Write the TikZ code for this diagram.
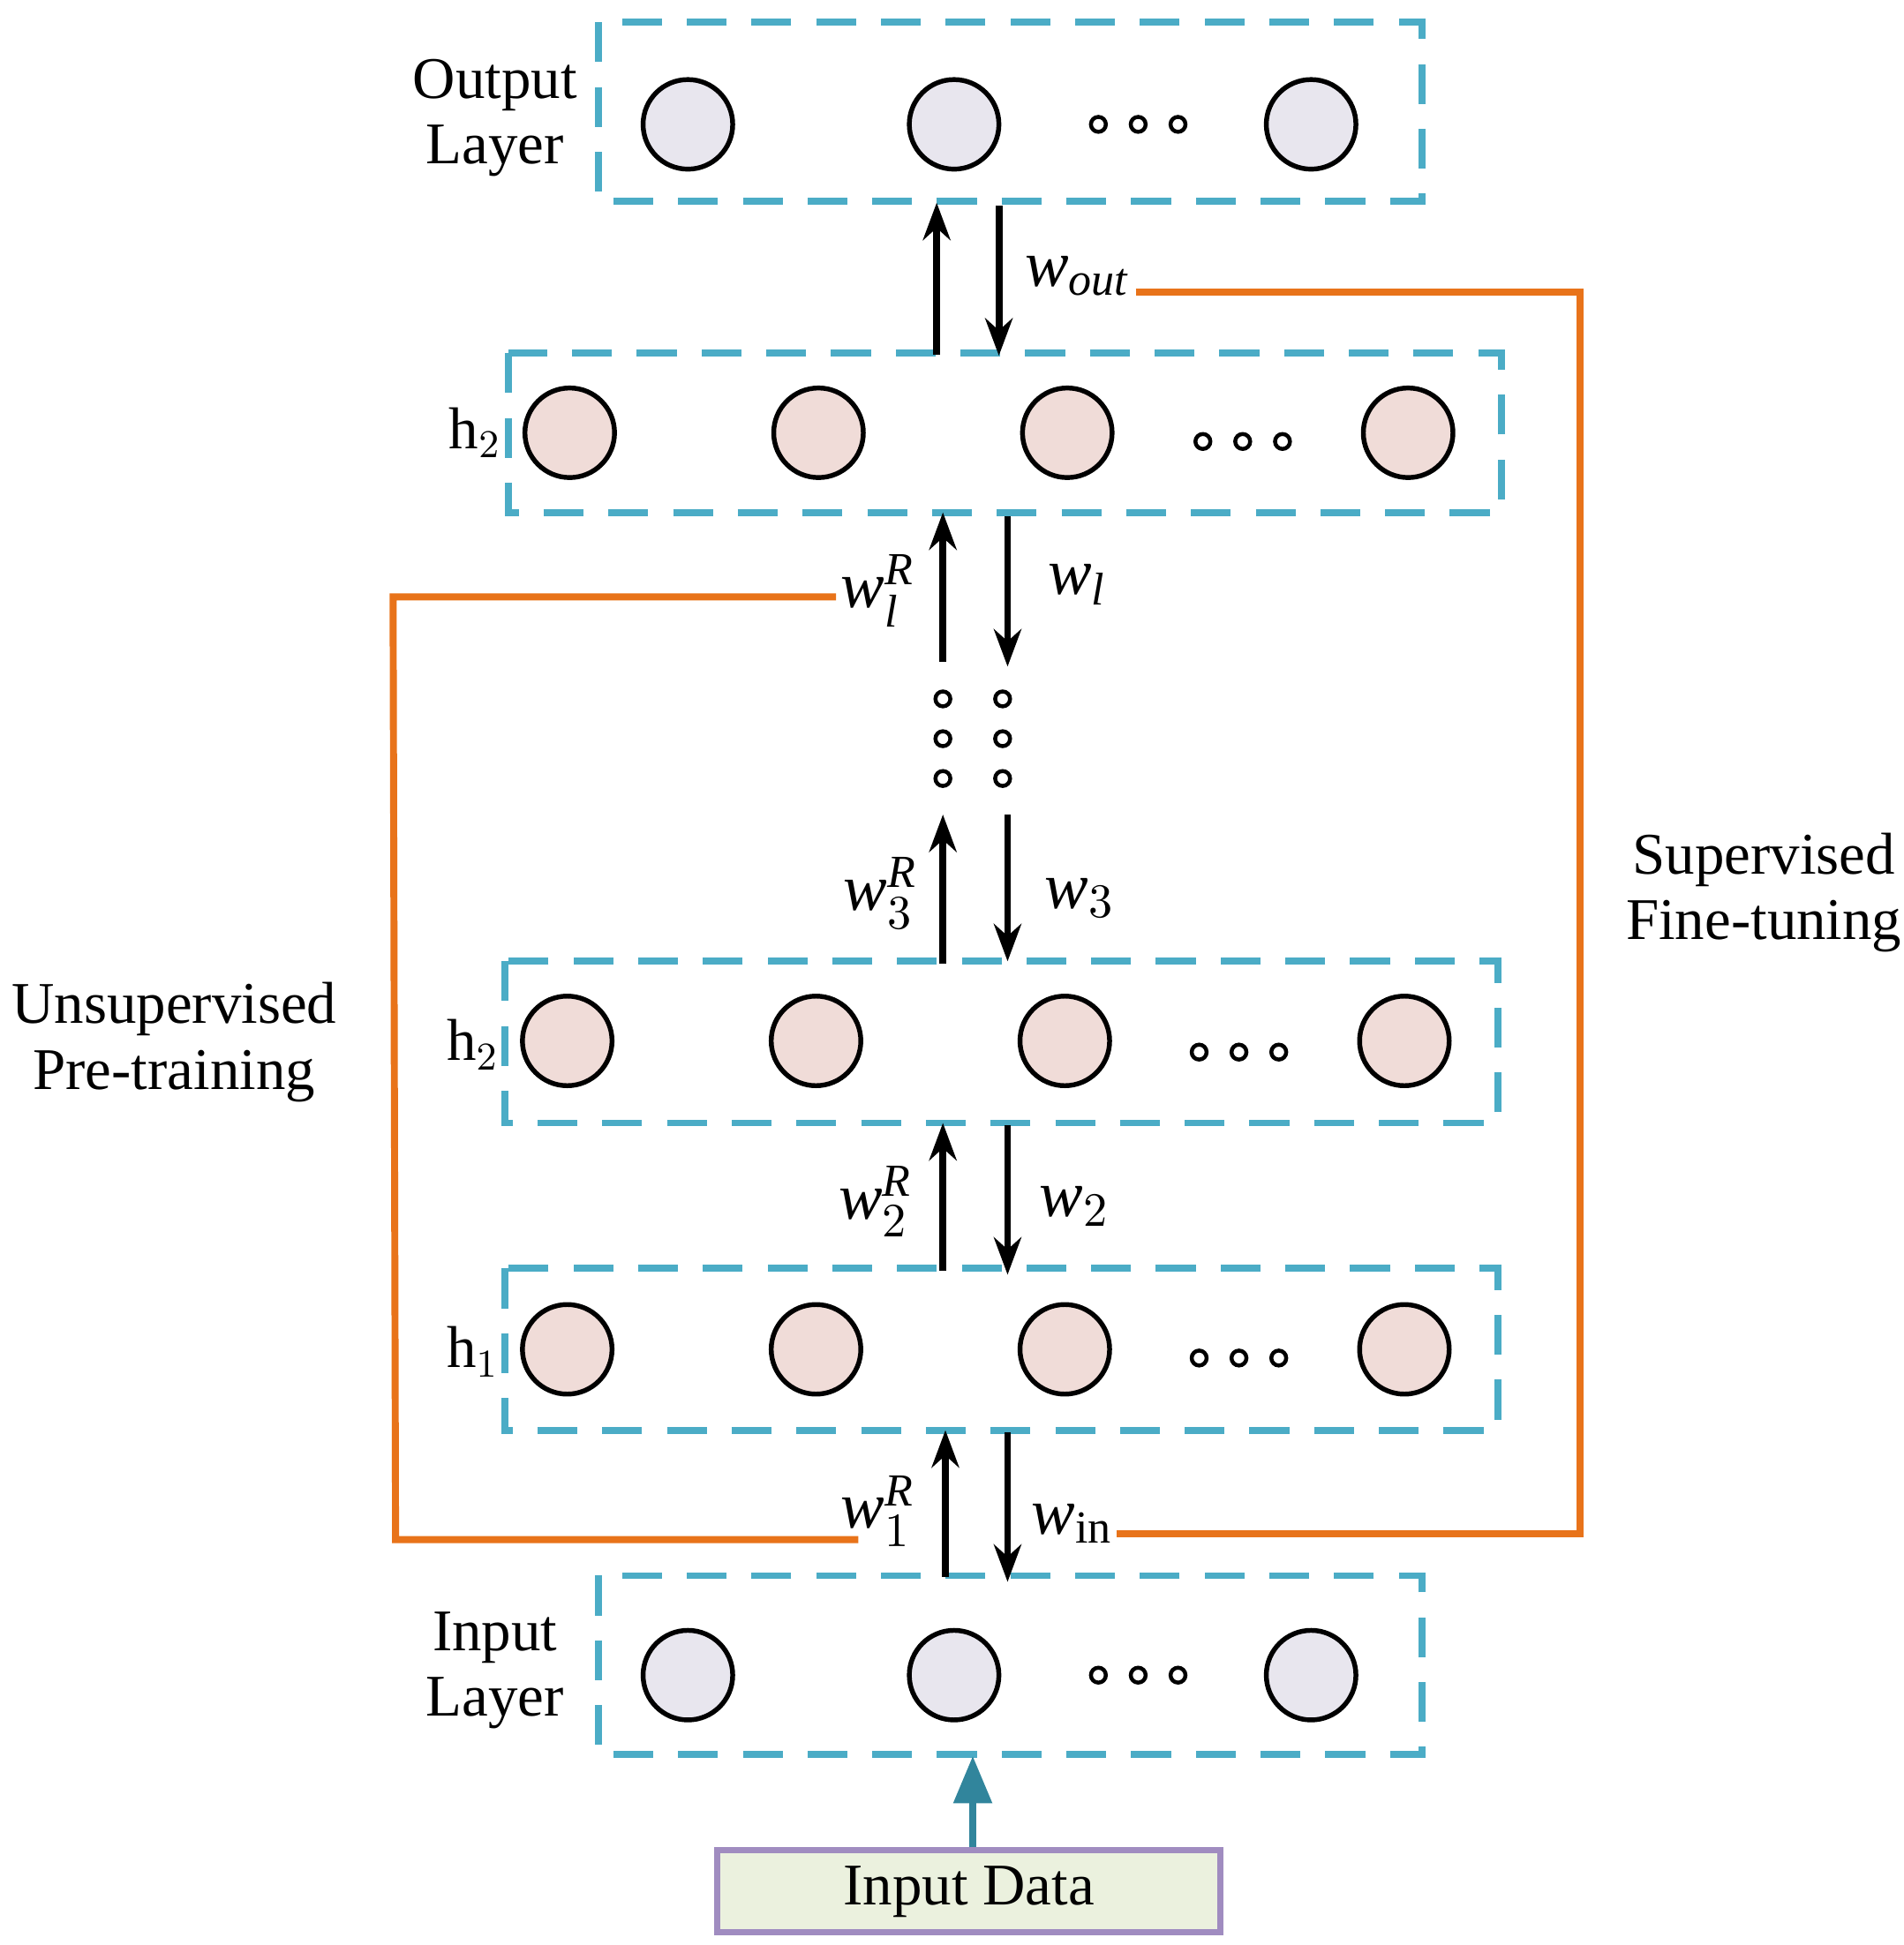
\documentclass[tikz,border=0pt]{standalone}
\usepackage{amsmath}
\usepackage{fontspec}
\setmainfont{Liberation Serif}
\usetikzlibrary{arrows.meta,positioning}
\definecolor{boxblue}{HTML}{4BACC6}
\definecolor{unitgray}{HTML}{E8E6EE}
\definecolor{unitpink}{HTML}{F0DCD8}
\definecolor{fineorange}{HTML}{E8731A}
\definecolor{datagreen}{HTML}{EBF1DE}
\definecolor{datalilac}{HTML}{A08CC0}
\definecolor{dataarrow}{HTML}{31859C}
\newcommand{\wt}[1]{\textit{#1}}

\tikzset{
  layer/.style = {draw=boxblue, line width=1.6pt, dash pattern=on 0.32cm off 0.2cm},
  unit/.style = {circle, draw=black, line width=1.1pt, minimum size=0.72cm, inner sep=0pt},
  dot/.style = {circle, draw=black, line width=0.9pt, minimum size=0.12cm, inner sep=0pt},
  arrow/.style = {line width=1.6pt, -{Stealth[length=0.3cm, width=0.22cm]}},
  link/.style = {fineorange, line width=1.6pt},
  label/.style = {font=\fontsize{13.5}{16}\selectfont, align=center},
  wlabel/.style = {font=\fontsize{15}{18}\selectfont, inner sep=1pt}
}

\begin{document}
\begin{tikzpicture}[x=0.01cm, y=-0.01cm]
	\useasboundingbox (0,0) rectangle (1530,1564);
	% Layer boxes
	\draw [layer] (481,18) rectangle (1143,162);
	\draw [layer] (409,284) rectangle (1207,412);
	\draw [layer] (406,773) rectangle (1204,903);
	\draw [layer] (406,1020) rectangle (1204,1150);
	\draw [layer] (481,1267) rectangle (1143,1411);
	% Units
	\foreach \x [count=\i] in {553,767,1054} {
		\node [unit, fill=unitgray] (out\i) at (\x,100) {};
		\node [unit, fill=unitgray] (in\i) at (\x,1347) {};
	}
	\foreach \x [count=\i] in {458,658,858,1132}
		\node [unit, fill=unitpink] (htop\i) at (\x,348) {};
	\foreach \x [count=\i] in {456,656,856,1129} {
		\node [unit, fill=unitpink] (hmid\i) at (\x,837) {};
		\node [unit, fill=unitpink] (hlow\i) at (\x,1085) {};
	}
	% Dots
	\foreach \x in {883,915,947} {
		\node [dot] at (\x,100) {};
		\node [dot] at (\x,1347) {};
	}
	\foreach \x in {967,999,1031} \node [dot] at (\x,355) {};
	\foreach \x in {964,996,1028} {
		\node [dot] at (\x,846) {};
		\node [dot] at (\x,1092) {};
	}
	\foreach \y in {562,594,626} {
		\node [dot] at (758,\y) {};
		\node [dot] at (806,\y) {};
	}
	% Layer names
	\node [label] (outname) at (398,95) {Output\\[-1pt]Layer};
	\node [label] (inname) at (398,1343) {Input\\[-1pt]Layer};
	\node [label] (htopname) at (382,348) {h$_2$};
	\node [label] (hmidname) at (380,840) {h$_2$};
	\node [label] (hlowname) at (380,1087) {h$_1$};
	\node [label] (unsup) at (140,838) {Unsupervised\\[-1pt]Pre-training};
	\node [label] (sup) at (1418,718) {Supervised\\[-1pt]Fine-tuning};
	% Weight labels
	\node [wlabel] (wout) at (866,222) {$\wt{w}_{\wt{out}}$};
	\node [wlabel] (wlR) at (706,475) {$\wt{w}_{\wt{l}}^{\wt{R}}$};
	\node [wlabel] (wl) at (866,470) {$\wt{w}_{\wt{l}}$};
	\node [wlabel] (w3R) at (708,718) {$\wt{w}_{3}^{\wt{R}}$};
	\node [wlabel] (w3) at (868,722) {$\wt{w}_{3}$};
	\node [wlabel] (w2R) at (704,966) {$\wt{w}_{2}^{\wt{R}}$};
	\node [wlabel] (w2) at (864,970) {$\wt{w}_{2}$};
	\node [wlabel] (w1R) at (706,1215) {$\wt{w}_{1}^{\wt{R}}$};
	\node [wlabel] (win) at (862,1225) {$\wt{w}_{\mathrm{in}}$};
	% Arrow ends
	\foreach \name/\x/\y in {a1/753/285, a2/753/163, b1/803/165, b2/803/286,
		c1/758/532, c2/758/412, d1/810/415, d2/810/536,
		e1/758/775, e2/758/655, f1/810/655, f2/810/773,
		g1/758/1022, g2/758/903, h1/810/905, h2/810/1025,
		i1/760/1268, i2/760/1150, j1/810/1152, j2/810/1272}
		\coordinate (\name) at (\x,\y);
	\foreach \s/\t in {a1/a2, b1/b2, c1/c2, d1/d2, e1/e2, f1/f2, g1/g2, h1/h2, i1/i2, j1/j2}
		\draw [arrow] (\s) -- (\t);
	% Training paths
	\coordinate (fa) at (913,235);
	\coordinate (fb) at (1270,235);
	\coordinate (fc) at (1270,1233);
	\coordinate (fd) at (898,1233);
	\draw [link] (fa) -- (fb) -- (fc) -- (fd);
	\coordinate (pa) at (672,480);
	\coordinate (pb) at (316,480);
	\coordinate (pc) at (318,1238);
	\coordinate (pd) at (690,1238);
	\draw [link] (pa) -- (pb) -- (pc) -- (pd);
	% Input data
	\node [draw=datalilac, fill=datagreen, line width=1.4pt, minimum width=4.04cm, minimum height=0.66cm, font=\fontsize{13.5}{16}\selectfont] (data) at (779,1521) {Input Data};
	\coordinate (inbox) at (782,1412);
	\draw [dataarrow, line width=1.6pt, -{Triangle[length=0.38cm, width=0.3cm]}] (data.north -| inbox) -- (inbox);
\end{tikzpicture}
\end{document}
